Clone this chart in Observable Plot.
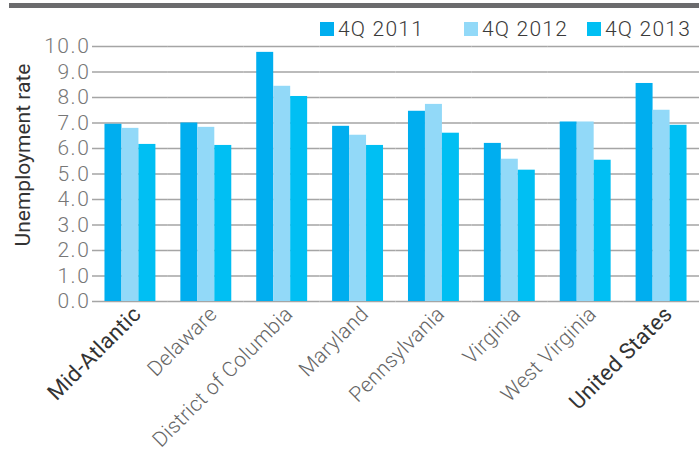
<!DOCTYPE html>
<html>
<head>
<meta charset="utf-8">
<script src="https://cdn.jsdelivr.net/npm/d3@7"></script>
<script src="https://cdn.jsdelivr.net/npm/@observablehq/plot@0.6"></script>
<style>
  html, body { margin: 0; padding: 0; background: #fff; }
  #wrap { position: relative; width: 699px; height: 451px; font-family: Roboto, "Liberation Sans", sans-serif; }
  #topbar { position: absolute; left: 9px; top: 3px; width: 690px; height: 5px; background: #6b6b6d; }
  #legend { position: absolute; left: 0; top: 0; width: 699px; height: 44px; }
  .item { position: absolute; top: 18px; display: flex; align-items: center; gap: 4px; font-size: 21px; font-weight: 300; color: #3a3a3a; line-height: 22px; letter-spacing: 1.2px; }
  .sw { width: 14px; height: 14px; display: inline-block; }
  #ylabel { position: absolute; left: 23px; top: 155px; transform: translate(-50%, -50%) rotate(-90deg); white-space: nowrap; font-size: 21px; color: #333; font-weight: 400; }
  #chart { position: absolute; left: 0; top: 44px; }
</style>
</head>
<body>
<div id="wrap">
  <div id="topbar"></div>
  <div id="legend"></div>
  <div id="ylabel">Unemployment rate</div>
  <div id="chart"></div>
</div>
<script>
const states = ["Mid-Atlantic", "Delaware", "District of Columbia", "Maryland", "Pennsylvania", "Virginia", "West Virginia", "United States"];
const emphasized = ["Mid-Atlantic", "United States"];
const years = ["4Q 2011", "4Q 2012", "4Q 2013"];
const q4_2011 = [6.95, 7.00, 9.77, 6.87, 7.46, 6.20, 7.04, 8.55];
const q4_2012 = [6.79, 6.83, 8.44, 6.52, 7.73, 5.58, 7.04, 7.50];
const q4_2013 = [6.16, 6.12, 8.04, 6.12, 6.60, 5.15, 5.54, 6.91];
const yTicks = [0, 1, 2, 3, 4, 5, 6, 7, 8, 9, 10];
const colors = ["#00aeef", "#92d9f8", "#00bff3"];
const legendLeft = [320, 464, 587];

const series = [q4_2011, q4_2012, q4_2013];
const rows = [];
states.forEach((s, i) => years.forEach((yr, j) => rows.push({state: s, year: yr, value: series[j][i]})));
const others = states.filter(s => !emphasized.includes(s));

const legend = document.getElementById("legend");
years.forEach((yr, j) => {
  const it = document.createElement("div");
  it.className = "item";
  it.style.left = legendLeft[j] + "px";
  it.innerHTML = `<span class="sw" style="background:${colors[j]}"></span><span>${yr}</span>`;
  legend.appendChild(it);
});

const chart = Plot.plot({
  width: 699,
  height: 407,
  marginTop: 2,
  marginBottom: 150,
  marginLeft: 92,
  marginRight: 0,
  style: {fontFamily: "Roboto, 'Liberation Sans', sans-serif", background: "transparent", overflow: "visible", letterSpacing: "0.3px"},
  fx: {domain: states, padding: 0, round: false},
  x: {domain: years, paddingInner: 0, paddingOuter: 0.735, round: false, axis: null},
  y: {domain: [0, 10]},
  color: {domain: years, range: colors},
  marks: [
    Plot.ruleY(yTicks, {stroke: "#a5a5a5", strokeWidth: 1.7}),
    Plot.barY(rows, {fx: "state", x: "year", y: "value", fill: "year"}),
    Plot.axisY({ticks: yTicks, tickFormat: d3.format(".1f"), tickSize: 0, tickPadding: 2, fontSize: 21, fontWeight: 300, fill: "#777", label: null}),
    Plot.axisFx({anchor: "bottom", ticks: others, tickRotate: -45, tickSize: 0, tickPadding: 9, dx: 7, fontSize: 21, fontWeight: 300, fill: "#666", label: null}),
    Plot.axisFx({anchor: "bottom", ticks: emphasized, tickRotate: -45, tickSize: 0, tickPadding: 9, dx: 7, fontSize: 22, fontWeight: 400, fill: "#333", label: null})
  ]
});
d3.select(chart).selectAll('[aria-label="y-axis tick label"] text').attr("letter-spacing", "1.6px");
document.getElementById("chart").appendChild(chart);
</script>
</body>
</html>
